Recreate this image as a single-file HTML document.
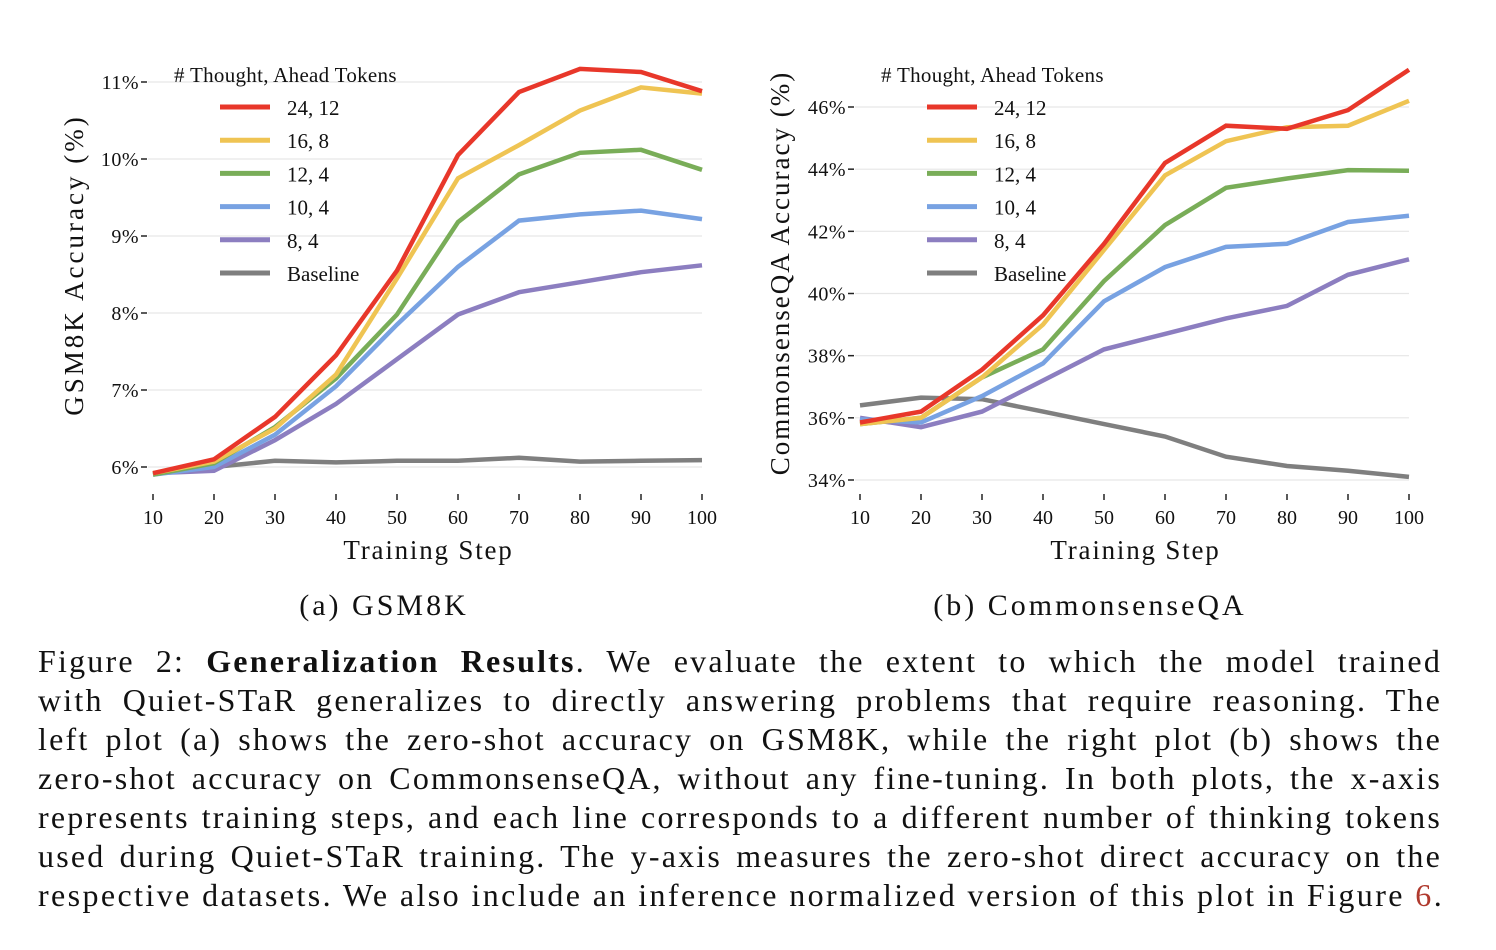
<!DOCTYPE html>
<html><head><meta charset="utf-8">
<style>
body{margin:0;background:#fff;width:1496px;height:950px;overflow:hidden;position:relative;font-family:"Liberation Serif",serif;}
svg{position:absolute;left:0;top:0}
.cap{position:absolute;left:38px;width:1404px;font-size:32px;letter-spacing:2.2px;line-height:39px;top:642px;color:#111}
.cap div{text-align:justify;text-align-last:justify;white-space:nowrap;height:39px}
.cap div.last{text-align-last:left;letter-spacing:2.4px}
</style></head><body>
<svg id="chart" width="1496" height="640" font-family="Liberation Serif, serif"></svg>
<div class="cap">
<div>Figure 2: <b>Generalization Results</b>. We evaluate the extent to which the model trained</div>
<div>with Quiet-STaR generalizes to directly answering problems that require reasoning. The</div>
<div>left plot (a) shows the zero-shot accuracy on GSM8K, while the right plot (b) shows the</div>
<div>zero-shot accuracy on CommonsenseQA, without any fine-tuning. In both plots, the x-axis</div>
<div>represents training steps, and each line corresponds to a different number of thinking tokens</div>
<div>used during Quiet-STaR training. The y-axis measures the zero-shot direct accuracy on the</div>
<div class="last">respective datasets. We also include an inference normalized version of this plot in Figure <span style="color:#b03a2e">6</span>.</div>
</div>
<script>
const steps=[10,20,30,40,50,60,70,80,90,100];
const seriesNames=["24, 12","16, 8","12, 4","10, 4","8, 4","Baseline"];
const colors=["#e8372a","#efc453","#79ad58","#78a2e2","#8c7ec0","#7f7f7f"];
const gsmRed=[5.92,6.1,6.65,7.45,8.55,10.05,10.87,11.17,11.13,10.88];
const gsmYellow=[5.92,6.07,6.5,7.2,8.45,9.75,10.18,10.63,10.93,10.85];
const gsmGreen=[5.9,6.05,6.52,7.15,7.98,9.18,9.8,10.08,10.12,9.86];
const gsmBlue=[5.9,6.0,6.42,7.05,7.85,8.6,9.2,9.28,9.33,9.22];
const gsmPurple=[5.92,5.95,6.35,6.82,7.4,7.98,8.27,8.4,8.53,8.62];
const gsmGray=[5.92,6.0,6.08,6.06,6.08,6.08,6.12,6.07,6.08,6.09];
const gsmTicks=[6,7,8,9,10,11];
const csRed=[35.85,36.2,37.55,39.3,41.6,44.2,45.4,45.3,45.9,47.2];
const csYellow=[35.8,36.0,37.3,39.0,41.4,43.8,44.9,45.35,45.4,46.2];
const csGreen=[35.8,36.0,37.3,38.2,40.4,42.2,43.4,43.7,43.97,43.95];
const csBlue=[35.95,35.85,36.7,37.75,39.75,40.85,41.5,41.6,42.3,42.5];
const csPurple=[36.0,35.7,36.2,37.2,38.2,38.7,39.2,39.6,40.6,41.1];
const csGray=[36.4,36.65,36.6,36.2,35.8,35.4,34.75,34.45,34.3,34.1];
const csTicks=[34,36,38,40,42,44,46];

const svg=document.getElementById('chart');
const NS="http://www.w3.org/2000/svg";
function mk(tag,attrs,parent){const e=document.createElementNS(NS,tag);for(const k in attrs)e.setAttribute(k,attrs[k]);(parent||svg).appendChild(e);return e;}

function panel(cfg){
  const g=mk('g',{});
  
  
  const x=v=>cfg.x0+(v-10)/90*(cfg.x1-cfg.x0);
  const y=v=>cfg.yb+(v-cfg.vb)/(cfg.vt-cfg.vb)*(cfg.yt-cfg.yb);
  cfg.ticks.forEach(t=>{
    const gl=mk('line',{x1:cfg.x0-5,x2:cfg.x1,y1:y(t),y2:y(t),stroke:'#e6e6e6','stroke-width':1.2},g);
    
    
    mk('line',{x1:cfg.x0-12,x2:cfg.x0-6,y1:y(t),y2:y(t),stroke:'#222','stroke-width':1.5},g);
    const tx=mk('text',{x:cfg.x0-14,y:y(t)+7,'font-size':20,'letter-spacing':0.5,'text-anchor':'end',fill:'#111'},g);
    tx.textContent=t+'%';
    
    
  });
  steps.forEach(s=>{
    mk('line',{x1:x(s),x2:x(s),y1:cfg.tickY,y2:cfg.tickY+6,stroke:'#222','stroke-width':1.5},g);
    const tx=mk('text',{x:x(s),y:cfg.tickY+30,'font-size':20,'text-anchor':'middle',fill:'#111'},g);
    tx.textContent=s;
    
    
  });
  const xl=mk('text',{x:(cfg.x0+cfg.x1)/2+1,y:559,'font-size':27,'letter-spacing':1.8,'text-anchor':'middle',fill:'#111'},g);
  xl.textContent='Training Step';
  
  
  const yl=mk('text',{x:0,y:0,'font-size':27,'letter-spacing':cfg.yls,'text-anchor':'middle',fill:'#111',transform:`translate(${cfg.ylx},${cfg.yly}) rotate(-90)`},g);
  yl.textContent=cfg.ytitle;
  
  
  const sc=mk('text',{x:cfg.subx,y:615,'font-size':30,'letter-spacing':3,'text-anchor':'middle',fill:'#111'},g);
  sc.textContent=cfg.sub;
  
  
  for(let i=cfg.data.length-1;i>=0;i--){
    const pts=cfg.data[i].map((v,j)=>x(steps[j]).toFixed(1)+','+y(v).toFixed(1)).join(' ');
    const pl=mk('polyline',{points:pts,fill:'none',stroke:colors[i],'stroke-width':4.5,'stroke-linejoin':'miter'},g);
    
    
  }
  const lt=mk('text',{x:cfg.lx,y:82,'font-size':21,'letter-spacing':0.3,fill:'#111'},g);
  lt.textContent='# Thought, Ahead Tokens';
  
  
  seriesNames.forEach((n,i)=>{
    const ly=107+i*33.2;
    const le=mk('g',{},g);
    
    
    mk('line',{x1:cfg.lx+46,x2:cfg.lx+96,y1:ly,y2:ly,stroke:colors[i],'stroke-width':5},le);
    const t=mk('text',{x:cfg.lx+113,y:ly+8,'font-size':21,fill:'#111'},le);
    t.textContent=n;
  });
}
panel({name:'gsm8k-chart',x0:153,x1:702,yb:467,yt:82,vb:6,vt:11,ticks:gsmTicks,tickY:494,
  data:[gsmRed,gsmYellow,gsmGreen,gsmBlue,gsmPurple,gsmGray],ytitle:'GSM8K Accuracy (%)',yls:3,ylx:83,yly:265,sub:'(a) GSM8K',subx:384,lx:174});
panel({name:'commonsenseqa-chart',x0:860,x1:1409,yb:480,yt:107,vb:34,vt:46,ticks:csTicks,tickY:494,
  data:[csRed,csYellow,csGreen,csBlue,csPurple,csGray],ytitle:'CommonsenseQA Accuracy (%)',yls:2,ylx:789,yly:273,sub:'(b) CommonsenseQA',subx:1090,lx:881});
</script>
</body></html>
